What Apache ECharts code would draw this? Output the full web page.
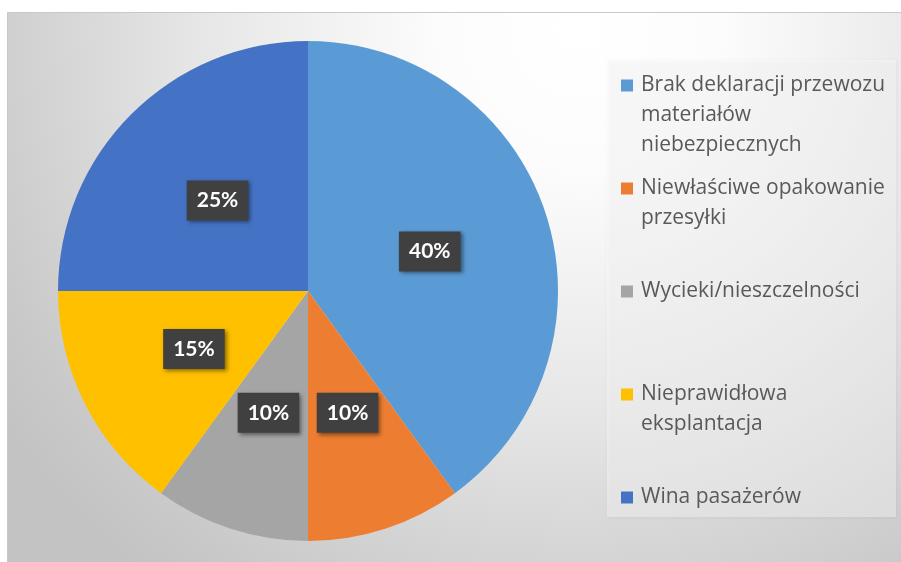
<!DOCTYPE html>
<html>
<head>
<meta charset="utf-8">
<script src="https://cdn.jsdelivr.net/npm/echarts@6/dist/echarts.min.js"></script>
<style>
  html, body { margin: 0; padding: 0; background: #fff; }
  #main { width: 901px; height: 562px; }
</style>
</head>
<body>
<div id="main"></div>
<script>
// kategorie i wartości (%)
var names = ['Brak deklaracji przewozu materiałów niebezpiecznych', 'Niewłaściwe opakowanie przesyłki', 'Wycieki/nieszczelności', 'Nieprawidłowa eksplantacja', 'Wina pasażerów'];
var values = [40, 10, 10, 15, 25];
var colors = ['#5B9BD5', '#ED7D31', '#A5A5A5', '#FFC000', '#4472C4'];
// podział tekstu legendy na linie (jak w oryginale)
var legendLines = [
    ['Brak deklaracji przewozu', 'materiałów', 'niebezpiecznych'],
    ['Niewłaściwe opakowanie', 'przesyłki'],
    ['Wycieki/nieszczelności'],
    ['Nieprawidłowa', 'eksplantacja'],
    ['Wina pasażerów']
];

var myChart = echarts.init(document.getElementById('main'));

var rich = {
    gap: { width: 8 },
    ind: { width: 20 },
    t: { fontFamily: 'Open Sans', fontSize: 21, color: '#595959', lineHeight: 30 }
};
colors.forEach(function (c, i) {
    rich['sq' + i] = { width: 12, height: 12, backgroundColor: c };
});

var legends = names.map(function (n, i) {
    return {
        data: [n],
        orient: 'vertical',
        left: 616,
        top: 84 + 103 * i - 9,
        padding: 0,
        icon: 'none',
        itemWidth: 0,
        itemGap: 0,
        selectedMode: false,
        formatter: function (name) {
            var k = names.indexOf(name);
            return legendLines[k].map(function (line, j) {
                return (j === 0 ? '{sq' + k + '|}{gap|}' : '{ind|}') + '{t|' + line + '}';
            }).join('\n');
        },
        textStyle: { rich: rich, padding: 0 }
    };
});

var options = {
    animation: false,
    color: colors,
    graphic: [
        {
            type: 'rect', left: 7, top: 12, z: -10,
            shape: { width: 894, height: 550 },
            style: {
                fill: {
                    type: 'radial', x: 0.64, y: 0.03, r: 1.27,
                    colorStops: [
                        { offset: 0, color: '#ffffff' },
                        { offset: 0.2, color: '#fcfcfc' },
                        { offset: 0.55, color: '#e6e6e6' },
                        { offset: 0.75, color: '#d5d5d5' },
                        { offset: 0.9, color: '#c9c9c9' },
                        { offset: 1, color: '#c3c3c3' }
                    ]
                },
                stroke: '#c8c8c8', lineWidth: 1
            }
        },
        {
            type: 'rect', left: 607, top: 60, z: -5,
            shape: { width: 289, height: 457 },
            style: {
                fill: 'rgba(255,255,255,0.4)',
                shadowBlur: 3, shadowColor: 'rgba(0,0,0,0.12)', shadowOffsetX: 1, shadowOffsetY: 1
            }
        }
    ],
    legend: legends,
    series: [
        {
            type: 'pie',
            center: [308, 291],
            radius: 250,
            startAngle: 90,
            clockwise: true,
            emphasis: { scale: false },
            label: {
                show: true,
                position: 'inside',
                formatter: '{c}%',
                color: '#fff',
                fontFamily: 'Lato',
                fontWeight: 'bold',
                fontSize: 21,
                lineHeight: 22,
                backgroundColor: '#404040',
                padding: [9, 10],
                shadowColor: 'rgba(0,0,0,0.45)',
                shadowBlur: 4,
                shadowOffsetX: 2,
                shadowOffsetY: 2
            },
            labelLine: { show: false },
            data: names.map(function (n, i) {
                return { name: n, value: values[i] };
            })
        }
    ]
};
myChart.setOption(options);
</script>
</body>
</html>
